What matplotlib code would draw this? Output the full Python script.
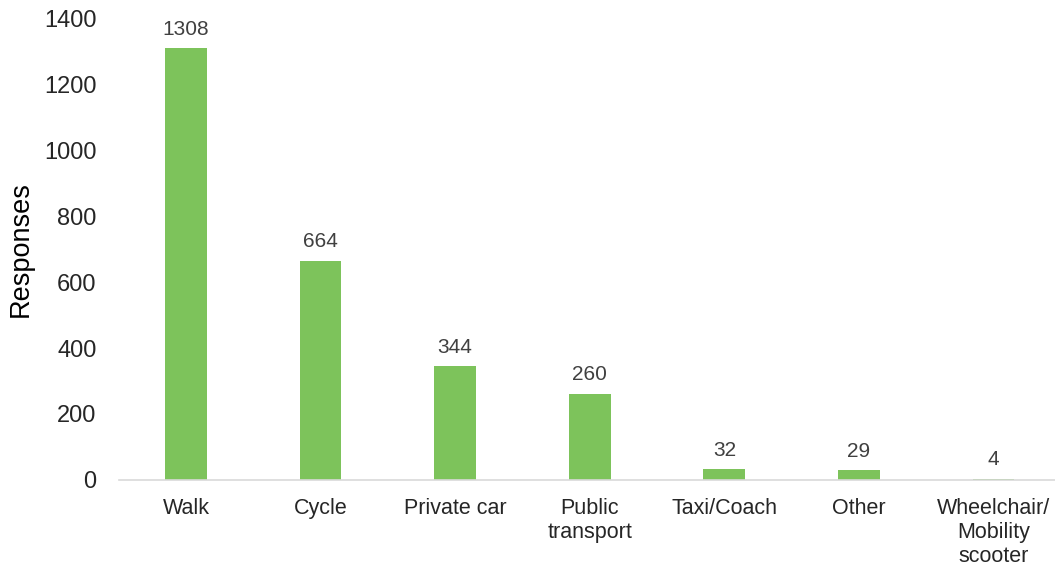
import matplotlib.pyplot as plt

plt.rcParams['font.family'] = ['Liberation Sans', 'DejaVu Sans']

# Survey responses by travel mode
modes = ['Walk', 'Cycle', 'Private car', 'Public\ntransport', 'Taxi/Coach',
         'Other', 'Wheelchair/\nMobility\nscooter']
responses = [1308, 664, 344, 260, 32, 29, 4]

fig = plt.figure(figsize=(10.55, 5.66), dpi=100)
ax = fig.add_axes([0.1125, 0.152, 0.893, 0.816])

x = range(len(modes))
bars = ax.bar(x, responses, width=0.31, color='#7DC35B')

for rect, val in zip(bars, responses):
    ax.text(rect.get_x() + rect.get_width() / 2, val + 30, str(val),
            ha='center', va='bottom', fontsize=15, color='#404040')

ax.set_xlim(-0.5, len(modes) - 0.5)
ax.set_ylim(0, 1400)
ax.set_yticks(range(0, 1401, 200))
ax.set_xticks(list(x))
ax.set_xticklabels(modes, fontsize=15.5, color='#262626', linespacing=1.2)
ax.tick_params(axis='y', labelsize=17, colors='#262626', length=0, pad=16)
ax.tick_params(axis='x', length=0, pad=13)
ax.set_ylabel('Responses', fontsize=19.5, color='#000000', labelpad=7)

for side in ['top', 'right', 'left']:
    ax.spines[side].set_visible(False)
ax.spines['bottom'].set_color('#D9D9D9')
ax.spines['bottom'].set_linewidth(1.2)

fig.savefig('out.png', dpi=100)
